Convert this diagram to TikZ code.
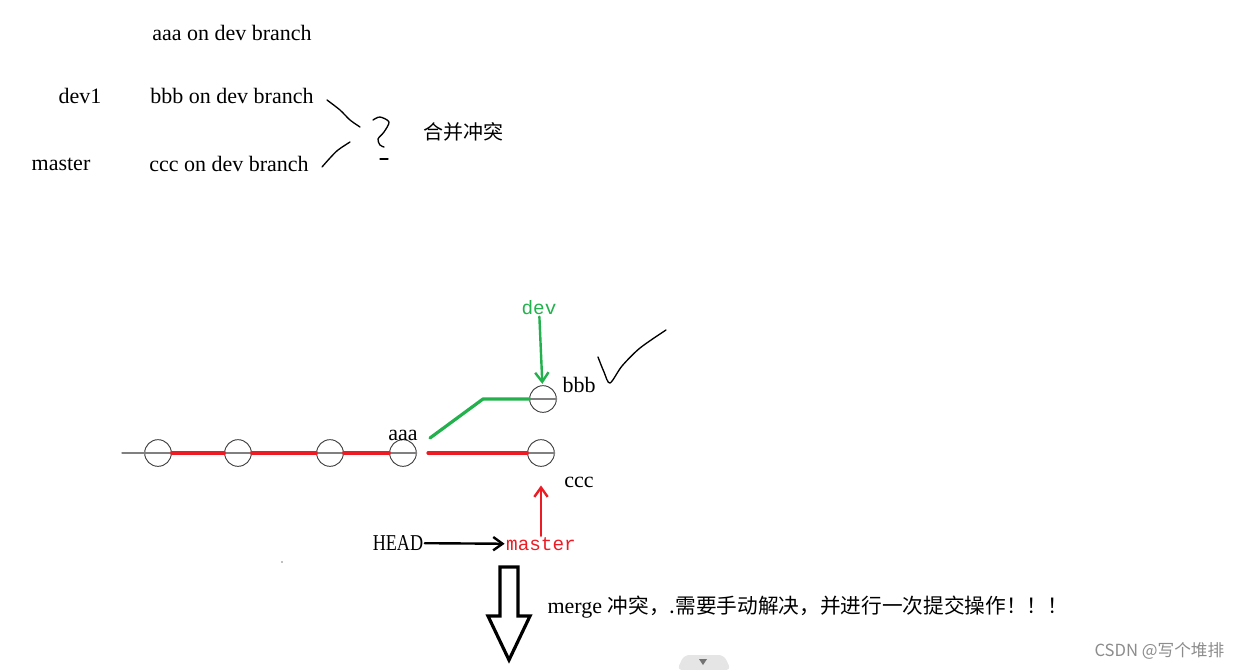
\documentclass[tikz,border=0pt]{standalone}
\usepackage{fontspec}
\setmainfont{Liberation Serif}
\newfontfamily\cjk{Noto Sans CJK SC}
\newfontfamily\monof{Liberation Mono}
\newfontfamily\narrowf[FakeStretch=0.8]{Liberation Serif}
\usetikzlibrary{arrows.meta}
\definecolor{devgreen}{RGB}{34,177,76}
\definecolor{mred}{RGB}{237,28,36}
\tikzset{
  commit/.style={draw=black!75, circle, minimum size=20pt, inner sep=0pt, line width=0.7pt},
  lbl/.style={font=\fontsize{16.5}{18}\selectfont, inner sep=1pt},
  cjklbl/.style={font=\cjk\fontsize{15}{17}\selectfont, inner sep=1pt},
  ptr/.style={font=\monof\fontsize{14.5}{16}\selectfont, inner sep=1pt},
  hand/.style={line width=1pt, black},
}
\begin{document}
\begin{tikzpicture}[x=0.75pt, y=-0.75pt, line join=round, line cap=round, >={Straight Barb[length=7pt,width=10pt]}]
    \useasboundingbox (0,0) rectangle (1243,669);
    % the three commits in text
    \node[lbl] (aaaline) at (232,33) {aaa on dev branch};
    \node[lbl] (dev1) at (80,96) {dev1};
    \node[lbl] (bbbline) at (232,96) {bbb on dev branch};
    \node[lbl] (mst) at (61,164) {master};
    \node[lbl] (cccline) at (229,164) {ccc on dev branch};
    \node[cjklbl] (conflict) at (463,132) {合并冲突};
    % hand strokes
    \draw[hand] plot[smooth] coordinates {(327,100) (340,110) (350,120) (360,127)};
    \draw[hand] plot[smooth] coordinates {(350,142) (338,150) (330,158) (322,167)};
    \draw[hand] plot[smooth] coordinates {(373,120) (380,117) (389,122) (384,132) (378,139) (380,145) (384,147)};
    \draw[hand] (380,159) -- (388,159);
    % commit line
    \foreach \n/\x in {c1/158,c2/238,c3/330,c4/403,c5/541}
      \node[commit] (\n) at (\x,453) {};
    \node[commit] (c6) at (543,399) {};
    \coordinate (tail) at (122,453);
    \coordinate (fork) at (428,453);
    \coordinate (gstart) at (430,438);
    \coordinate (gbend) at (483,399);
    \draw[gray, line width=1pt] (tail) -- (c1.west);
    \foreach \n in {c1,c2,c3,c4,c5,c6}
      \draw[gray, line width=0.8pt] (\n.west) -- (\n.east);
    \draw[mred, line width=2.4pt] (c1.east) -- (c2.west) (c2.east) -- (c3.west) (c3.east) -- (c4.west);
    \draw[mred, line width=2.4pt] (fork) -- (c5.west);
    \draw[devgreen, line width=2.4pt] (gstart) -- (gbend) -- (c6.west);
    \node[lbl] (aaa) at (403,435) {aaa};
    \node[lbl] (bbb) at (579,385) {bbb};
    \node[lbl] (ccc) at (579,482) {ccc};
    % pointers
    \node[ptr, text=devgreen] (dev) at (539,308) {dev};
    \node[ptr, text=mred] (master) at (541,544) {master};
    \node[lbl, font=\narrowf\fontsize{17}{19}\selectfont] (head) at (398,543) {HEAD};
    \draw[->, devgreen, line width=1.8pt, shorten >=1pt] (dev) -- (c6);
    \draw[->, mred, line width=1.8pt, shorten >=14pt] (master) -- (c5);
    \draw[->, black, line width=1.8pt] (head) -- (master);
    % tick
    \draw[hand] plot[smooth] coordinates {(598,357) (604,372) (610,383) (622,366) (640,348) (666,330)};
    % big hollow arrow
    \draw[line width=2.4pt, line join=miter] (500,567) -- (518,567) -- (518,616) -- (530,616) -- (509,660) -- (488,616) -- (500,616) -- cycle;
    \node[lbl, anchor=west] (mergenote) at (546,607) {merge {\cjk\fontsize{15.5}{17}\selectfont 冲突，.需要手动解决，并进行一次提交操作！！！}};
    \fill[gray] (282,562) circle (0.8);
    % page tab and mark
    \fill[black!10, rounded corners=4pt] (677,670) -- (684,655) -- (724,655) -- (731,670) -- cycle;
    \fill[black!55] (699,659) -- (707,659) -- (703,665) -- cycle;
    \node[font=\cjk\fontsize{12.5}{14}\selectfont, text=black!45, anchor=east] (mark) at (1229,651) {CSDN @写个堆排};
\end{tikzpicture}
\end{document}
